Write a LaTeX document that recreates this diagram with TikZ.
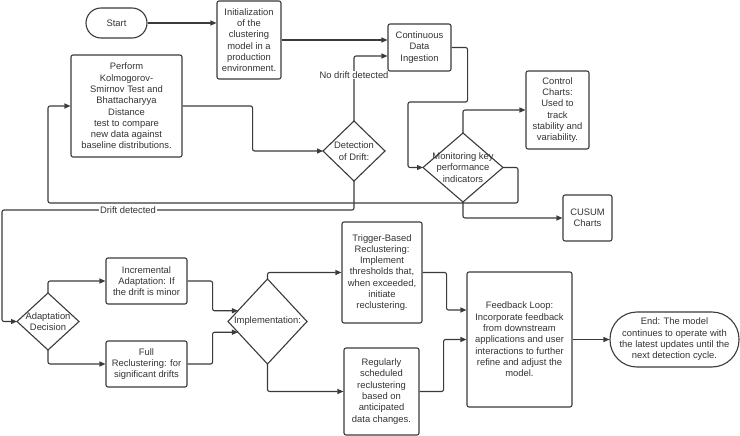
\documentclass[tikz,border=0pt]{standalone}
\usepackage{fontspec}
\setmainfont{Liberation Sans}
\usetikzlibrary{shapes.geometric,arrows.meta}
\definecolor{linegray}{HTML}{3A3A3A}
\definecolor{txtgray}{HTML}{333333}

\begin{document}
\begin{tikzpicture}[x=1pt,y=-1pt,
		txt/.style={text=txtgray,align=center,inner sep=0pt,font=\fontsize{9.4}{11.3}\selectfont},
		box/.style={txt,draw=linegray,line width=1.1pt,rounded corners=2pt},
		dia/.style={draw=linegray,line width=1.1pt,diamond,inner sep=0pt,outer sep=0pt},
		lbl/.style={txt,fill=white,inner sep=1pt},
		arr/.style={draw=linegray,line width=1.1pt,rounded corners=2pt,-{Triangle[length=6pt,width=5pt]}}]
	\useasboundingbox (0,0) rectangle (740,436);
	\node[box,rounded corners=15pt,minimum width=61,minimum height=30] (start) at (116.5,23) {Start};
	\node[box,minimum width=64,minimum height=78] (init) at (249,40) {Initialization\\of the\\clustering\\model in a\\production\\environment.};
	\node[box,minimum width=63,minimum height=47] (cdi) at (419.5,47.5) {Continuous\\Data\\Ingestion};
	\node[box,minimum width=111,minimum height=102] (ks) at (126.5,106) {Perform\\Kolmogorov-\\Smirnov Test and\\Bhattacharyya\\Distance\\test to compare\\new data against\\baseline distributions.};
	\node[dia,minimum width=62,minimum height=60] (det) at (354,151) {};
	\node[txt] (det-t) at (det) {Detection\\of Drift:};
	\node[dia,minimum width=80,minimum height=69] (mon) at (463,167.5) {};
	\node[txt] (mon-t) at (mon) {Monitoring key\\performance\\indicators};
	\node[box,minimum width=63,minimum height=78] (ctrl) at (557.5,110) {Control\\Charts:\\Used to\\track\\stability and\\variability.};
	\node[box,minimum width=49,minimum height=46] (cusum) at (587.5,218) {CUSUM\\Charts};
	\node[dia,minimum width=62,minimum height=57] (adapt) at (48,321.5) {};
	\node[txt] (adapt-t) at (adapt) {Adaptation\\Decision};
	\node[box,minimum width=81,minimum height=46] (inc) at (146.5,281) {Incremental\\Adaptation: If\\the drift is minor};
	\node[box,minimum width=81,minimum height=46] (full) at (146.5,364) {Full\\Reclustering: for\\significant drifts};
	\node[dia,minimum width=79,minimum height=85] (impl) at (267.5,321.5) {};
	\node[txt] (impl-t) at (impl) {Implementation:};
	\node[box,minimum width=80,minimum height=101] (trig) at (382,272.5) {Trigger-Based\\Reclustering:\\Implement\\thresholds that,\\when exceeded,\\initiate\\reclustering.};
	\node[box,minimum width=75,minimum height=87] (reg) at (381.5,391.5) {Regularly\\scheduled\\reclustering\\based on\\anticipated\\data changes.};
	\node[box,minimum width=105,minimum height=135] (fb) at (519.5,339.5) {Feedback Loop:\\Incorporate feedback\\from downstream\\applications and user\\interactions to further\\refine and adjust the\\model.};
	\node[box,rounded corners=27pt,minimum width=129,minimum height=55] (end) at (674.5,339.5) {End: The model\\continues to operate with\\the latest updates until the\\next detection cycle.};
	\coordinate (back) at (48,203);
	\draw[arr] (start) -- (start -| init.west);
	\draw[arr] (init) -- (init -| cdi.west);
	\draw[arr] (det.north) |- ([yshift=-8.5pt]cdi.west);
	\draw[arr] (ks.east) -- ++(70,0) |- (det.west);
	\draw[arr] (det.south) -- ++(0,29) -| ([xshift=-15pt]adapt.west) -- (adapt.west);
	\draw[arr] (cdi.east) -- ++(16,0) -- ++(0,54.5) -| ([xshift=-15pt]mon.west) -- (mon.west);
	\draw[arr] (mon.north) |- (ctrl.west);
	\draw[arr] (mon.south) |- (cusum.west);
	\draw[arr] (mon.east) -- ++(15,0) |- (back) |- (ks.west);
	\draw[arr] (adapt.north) |- (inc.west);
	\draw[arr] (adapt.south) |- (full.west);
	\draw[arr] (inc.east) -- ++(25,0) |- (impl.160);
	\draw[arr] (full.east) -- ++(25,0) |- (impl.200);
	\draw[arr] (impl.north) |- (trig.west);
	\draw[arr] (impl.south) |- (reg.west);
	\draw[arr] (trig.east) -- ++(24,0) |- ([yshift=29.5pt]fb.west);
	\draw[arr] (reg.east) -- ++(24,0) |- (fb.west);
	\draw[arr] (fb) -- (end);
	\node[lbl] (nodrift) at (354,75) {No drift detected};
	\node[lbl] (drift) at (128,210) {Drift detected};
\end{tikzpicture}
\end{document}
